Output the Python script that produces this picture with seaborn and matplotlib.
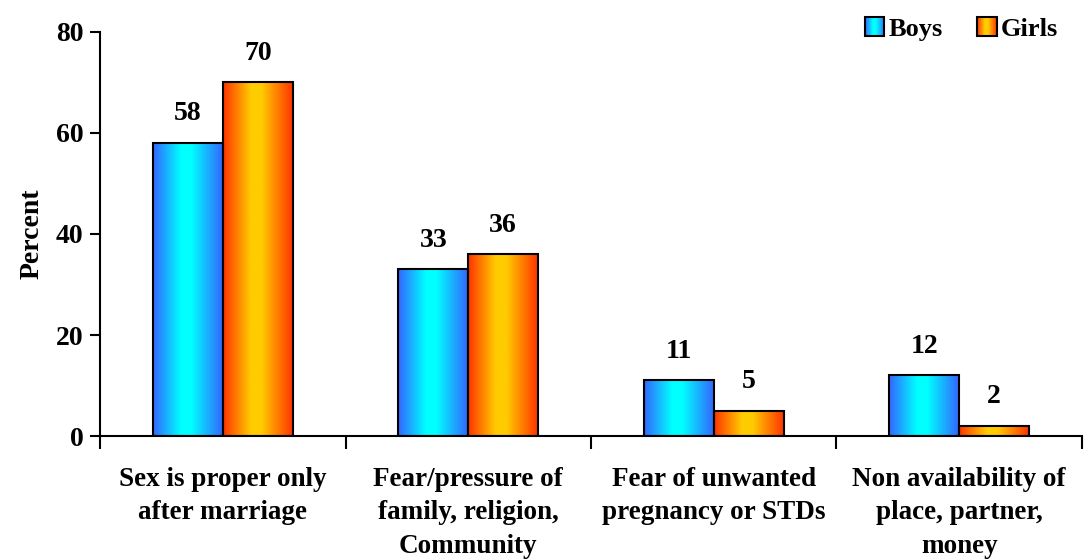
import numpy as np
import pandas as pd
import matplotlib
matplotlib.use("Agg")
import matplotlib.pyplot as plt
import matplotlib.patches as mpatches
from matplotlib.colors import LinearSegmentedColormap
from matplotlib.legend_handler import HandlerBase
import seaborn as sns

# data
categories = [
    "Sex is proper only\nafter marriage",
    "Fear/pressure of\nfamily, religion,\nCommunity",
    "Fear of unwanted\npregnancy or STDs",
    "Non availability of\nplace, partner,\nmoney",
]
groups = ["Boys", "Girls"]
boys = [58, 33, 11, 12]
girls = [70, 36, 5, 2]

df = pd.DataFrame({
    "reason": categories * 2,
    "group": ["Boys"] * 4 + ["Girls"] * 4,
    "percent": boys + girls,
})

# gradients (edge -> centre -> edge)
cmaps = {
    "Boys": LinearSegmentedColormap.from_list(
        "boys", [(0, "#3366ff"), (0.4, "#00ffff"), (0.55, "#00ffff"), (1, "#3366ff")]),
    "Girls": LinearSegmentedColormap.from_list(
        "girls", [(0, "#ff3300"), (0.4, "#ffcc00"), (0.55, "#ffcc00"), (1, "#ff3300")]),
}

sns.set_theme(style="white", rc={"text.color": "black", "axes.labelcolor": "black",
                                 "xtick.color": "black", "ytick.color": "black"})
plt.rcParams["font.family"] = ["Liberation Serif", "DejaVu Serif"]
plt.rcParams["font.weight"] = "bold"

fig = plt.figure(figsize=(10.85, 5.6), dpi=100)
ax = fig.add_axes([0.0922, 0.2214, 0.905, 0.7215])

sns.barplot(data=df, x="reason", y="percent", hue="group", hue_order=groups,
            palette={"Boys": "#00ffff", "Girls": "#ffcc00"}, width=0.57,
            edgecolor="black", linewidth=1.5, saturation=1, legend=False, ax=ax)

ax.set_xlim(-0.5, 3.5)
ax.set_ylim(0, 80)

# fill each bar with a horizontal gradient
grad = np.linspace(0, 1, 256).reshape(1, -1)
for cont, g in zip(ax.containers, groups):
    for bar in cont:
        x0, y0 = bar.get_x(), bar.get_y()
        w, h = bar.get_width(), bar.get_height()
        im = ax.imshow(grad, cmap=cmaps[g], aspect="auto",
                       extent=[x0, x0 + w, y0, y0 + h], zorder=bar.get_zorder())
        im.set_clip_path(bar)
        bar.set_facecolor("none")
        bar.set_zorder(bar.get_zorder() + 0.1)
    ax.bar_label(cont, padding=12, fontsize=20, fontweight="bold", color="black")

ax.set_xlim(-0.5, 3.5)
ax.set_ylim(0, 80)
ax.set_yticks([0, 20, 40, 60, 80])
ax.set_xticks(range(4))
ax.set_xticklabels(categories, fontsize=19.5, fontweight="bold", linespacing=1.45)
ax.set_xticks([-0.5, 0.5, 1.5, 2.5, 3.5], minor=True)
ax.tick_params(axis="x", which="major", length=0, pad=22)
ax.tick_params(axis="x", which="minor", length=9, width=1.5, color="black", direction="out", bottom=True)
ax.tick_params(axis="y", length=7, width=1.5, color="black", direction="out", left=True,
               labelsize=20, pad=5)
for lab in ax.get_yticklabels():
    lab.set_fontweight("bold")
ax.set_xlabel("")
ax.set_ylabel("Percent", fontsize=20, fontweight="bold", labelpad=8)

sns.despine(ax=ax)
for s in ["left", "bottom"]:
    ax.spines[s].set_color("black")
    ax.spines[s].set_linewidth(1.5)


class GradientHandler(HandlerBase):
    def __init__(self, cmap):
        super().__init__()
        self.cmap = cmap

    def create_artists(self, legend, orig_handle, xdescent, ydescent, width, height,
                       fontsize, trans):
        arts = []
        n = 20
        side = height
        x0 = -xdescent + (width - side)
        y0 = -ydescent
        for i in range(n):
            r = mpatches.Rectangle((x0 + side * i / n, y0), side / n + 0.3, side,
                                   facecolor=self.cmap((i + 0.5) / n), edgecolor="none",
                                   transform=trans)
            arts.append(r)
        arts.append(mpatches.Rectangle((x0, y0), side, side, facecolor="none",
                                       edgecolor="black", linewidth=1.5, transform=trans))
        return arts


handles = [mpatches.Patch(label=g) for g in groups]
fig.legend(handles=handles, labels=groups, loc="upper right",
           bbox_to_anchor=(0.997, 1.012), ncol=2, frameon=False,
           prop={"size": 19, "weight": "bold"}, handlelength=0.75, handleheight=0.75,
           handletextpad=0.15, columnspacing=1.3,
           handler_map={handles[0]: GradientHandler(cmaps["Boys"]),
                        handles[1]: GradientHandler(cmaps["Girls"])})

fig.savefig("out.png", dpi=100)
